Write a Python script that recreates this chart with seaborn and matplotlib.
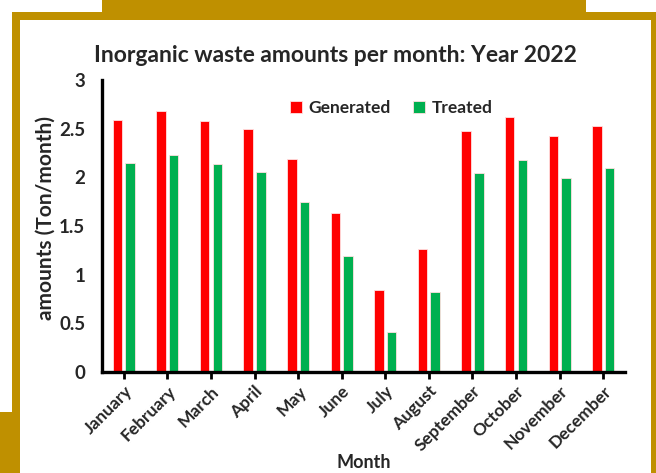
import matplotlib
matplotlib.use("Agg")
import matplotlib.pyplot as plt
import numpy as np
import pandas as pd
import seaborn as sns
from matplotlib.patches import Rectangle

months = ["January", "February", "March", "April", "May", "June", "July",
          "August", "September", "October", "November", "December"]
generated = [2.59, 2.68, 2.58, 2.50, 2.19, 1.63, 0.84, 1.26, 2.48, 2.62, 2.42, 2.53]
treated = [2.15, 2.23, 2.14, 2.05, 1.75, 1.19, 0.41, 0.82, 2.04, 2.18, 1.99, 2.10]
series = ["Generated", "Treated"]
colors = ["#FF0000", "#00B050"]
gold = "#BF9000"

df = pd.DataFrame({
    "Month": months * 2,
    "value": generated + treated,
    "Series": [series[0]] * len(months) + [series[1]] * len(months),
})

sns.set_theme(style="white")
plt.rcParams["font.family"] = ["Lato", "DejaVu Sans"]

W, H = 656, 473
fig = plt.figure(figsize=(W / 100, H / 100), dpi=100)
fig.patch.set_facecolor("white")


def px_rect(x0, y0, x1, y1, **kw):
    # pixel box (top-left origin) -> figure fraction rectangle
    r = Rectangle((x0 / W, 1 - y1 / H), (x1 - x0) / W, (y1 - y0) / H,
                  transform=fig.transFigure, linewidth=0, **kw)
    fig.add_artist(r)


# gold decorative frame
px_rect(102, 0, 586, 14, facecolor=gold)
px_rect(12, 12, 656, 20, facecolor=gold)
px_rect(12, 12, 20, 473, facecolor=gold)
px_rect(651, 12, 656, 473, facecolor=gold)
px_rect(0, 412, 20, 473, facecolor=gold)

ax = fig.add_axes([102 / W, 1 - 372 / H, (625 - 102) / W, (372 - 80) / H])
ax.set_facecolor("none")

sns.barplot(data=df, x="Month", y="value", hue="Series", palette=colors,
            saturation=1, width=0.58, gap=0.25, edgecolor="#FFE0E0",
            linewidth=0.6, ax=ax, legend=True)

ax.set_xlim(-0.5, len(months) - 0.5)
ax.set_ylim(0, 3)
ax.set_yticks([0, 0.5, 1, 1.5, 2, 2.5, 3])
ax.set_yticklabels(["0", "0.5", "1", "1.5", "2", "2.5", "3"],
                   fontsize=13.5, fontweight="bold")
ax.set_xticks(range(len(months)))
ax.set_xticklabels(months, rotation=45, ha="right", rotation_mode="anchor",
                   fontsize=12.5, fontweight="bold")

for side in ["top", "right"]:
    ax.spines[side].set_visible(False)
for side in ["left", "bottom"]:
    ax.spines[side].set_color("black")
    ax.spines[side].set_linewidth(2.4)

ax.tick_params(axis="x", direction="out", length=5, width=2, color="black",
               bottom=True, pad=3)
ax.tick_params(axis="y", length=0, pad=12)

ax.set_xlabel("Month", fontsize=13, fontweight="bold", labelpad=0)
ax.set_ylabel("amounts (Ton/month)", fontsize=15, fontweight="bold")
ax.yaxis.set_label_coords(-0.088, 0.527)
fig.text(335 / W, 1 - 55 / H, "Inorganic waste amounts per month: Year 2022",
         fontsize=16.5, fontweight="bold", ha="center", va="center")

handles, labels = ax.get_legend_handles_labels()
ax.legend(handles, labels, loc="center", bbox_to_anchor=(0.553, 0.905),
          ncol=2, frameon=False, handlelength=0.7, handleheight=0.7,
          handletextpad=0.35, columnspacing=1.3,
          prop={"size": 12.5, "weight": "bold"})

fig.savefig("out.png", dpi=100)
